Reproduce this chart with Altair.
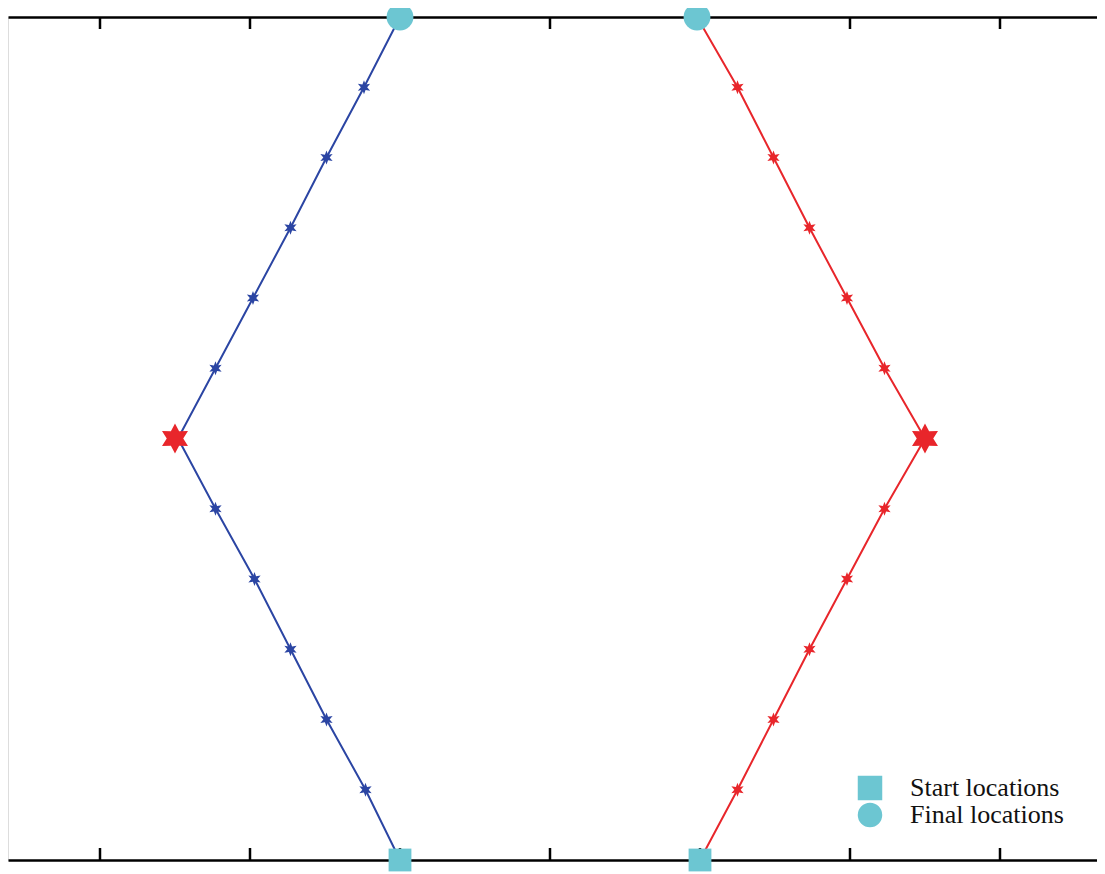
import math
import altair as alt
import pandas as pd

# ---- data ----
steps = list(range(13))
blue_x = [2.0, 1.77, 1.51, 1.27, 1.03, 0.77, 0.52, 0.77, 1.02, 1.27, 1.51, 1.76, 2.0]
red_x = [4.0, 4.25, 4.49, 4.73, 4.98, 5.23, 5.5, 5.23, 4.98, 4.73, 4.49, 4.25, 3.98]
meet_x = [0.5, 5.5]
meet_y = [6, 6]
tick_values = [0, 1, 2, 3, 4, 5, 6]
legend_labels = ["Start locations", "Final locations"]

BLUE = "#2b45a3"
RED = "#e8262b"
CYAN = "#6cc6d2"
W, H = 1089, 843

# ---- tables ----
rows = []
for name, xs in (("blue", blue_x), ("red", red_x)):
    for i, (xv, yv) in enumerate(zip(xs, steps)):
        rows.append({"path": name, "x": xv, "y": yv, "order": i})
paths = pd.DataFrame(rows)
inner = paths[(paths["order"] > 0) & (paths["order"] < 12) & (paths["order"] != 6)]
starts = paths[paths["order"] == 0].copy()
starts["kind"] = legend_labels[0]
finals = paths[paths["order"] == 12].copy()
finals["kind"] = legend_labels[1]
meets = pd.DataFrame({"x": meet_x, "y": meet_y})
ticks = pd.DataFrame({"t": tick_values})


def star_path(n, r_in):
    pts = []
    for k in range(2 * n):
        r = 1.0 if k % 2 == 0 else r_in
        a = math.pi / 2 + k * math.pi / n
        pts.append(f"{r * math.cos(a):.3f},{-r * math.sin(a):.3f}")
    return "M" + " L".join(pts) + " Z"


STAR6 = star_path(6, 0.45)
STAR6_BIG = star_path(6, 0.55)

xs = alt.Scale(domain=[-0.6133, 6.6467], nice=False, zero=False)
ys = alt.Scale(domain=[0, 12], nice=False, zero=False)
X = alt.X("x:Q", scale=xs, axis=None)
Y = alt.Y("y:Q", scale=ys, axis=None)
path_color = alt.Color("path:N", scale=alt.Scale(domain=["blue", "red"], range=[BLUE, RED]), legend=None)

lines = alt.Chart(paths).mark_line(strokeWidth=2).encode(
    x=X, y=Y, detail="path:N", order="order:Q", color=path_color,
)

small_stars = alt.Chart(inner).mark_point(shape=STAR6, filled=True, size=200, opacity=1).encode(
    x=X, y=Y, color=path_color,
)

big_stars = alt.Chart(meets).mark_point(shape=STAR6_BIG, filled=True, size=900, color=RED, opacity=1).encode(
    x=X, y=Y,
)

shape_enc = alt.Shape(
    "kind:N",
    scale=alt.Scale(domain=legend_labels, range=["square", "circle"]),
    legend=alt.Legend(title=None, orient="none", legendX=849, legendY=758,
                      labelFont="Liberation Serif", labelFontSize=26,
                      labelColor="#111111", symbolSize=600, symbolFillColor=CYAN,
                      symbolStrokeWidth=0, rowPadding=1,
                      labelOffset=27, padding=0),
)

start_marks = alt.Chart(starts).mark_point(filled=True, opacity=1, color=CYAN, size=520).encode(
    x=X, y=Y, shape=shape_enc,
)
final_marks = alt.Chart(finals).mark_point(filled=True, opacity=1, color=CYAN, size=720).encode(
    x=X, y=Y, shape=shape_enc,
)

bottom_axis = alt.Chart(ticks).mark_rule(color="black", strokeWidth=2.5).encode(
    x=alt.X("t:Q", scale=xs, axis=alt.Axis(orient="bottom", domain=True, domainColor="black",
                                              domainWidth=2.5, ticks=False, labels=False, grid=False, title=None)),
    y=alt.value(H - 12), y2=alt.value(H),
)
top_axis = alt.Chart(ticks).mark_rule(color="black", strokeWidth=2.5).encode(
    x=alt.X("t:Q", scale=xs, axis=alt.Axis(orient="top", domain=True, domainColor="black",
                                              domainWidth=2.5, ticks=False, labels=False, grid=False, title=None)),
    y=alt.value(0), y2=alt.value(12),
)

chart = alt.layer(bottom_axis, top_axis, lines, small_stars, big_stars, start_marks, final_marks).properties(
    width=W, height=H,
    autosize=alt.AutoSizeParams(type="none"),
    padding={"left": 0, "top": 9, "right": 0, "bottom": 14},
).configure_view(strokeWidth=0, stroke="transparent").configure(background="white")

chart.save("out.html", embed_options={"renderer": "svg", "actions": False})
